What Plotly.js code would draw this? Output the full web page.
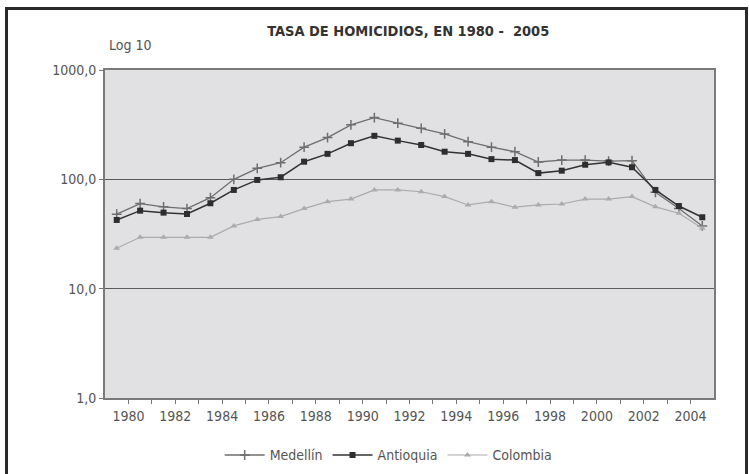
<!DOCTYPE html>
<html>
<head>
<meta charset="utf-8">
<script src="https://cdn.plot.ly/plotly-3.0.1.min.js"></script>
<style>
  html, body { margin: 0; padding: 0; background: #ffffff; }
  #wrap { position: relative; width: 749px; height: 474px; overflow: hidden; }
  #chart { width: 749px; height: 474px; }
  #frame { position: absolute; left: 5px; top: 7px; width: 737px; height: 480px;
           border: 3px solid #2a2a2a; pointer-events: none; }
</style>
</head>
<body>
<div id="wrap">
  <div id="chart"></div>
  <div id="frame"></div>
</div>
<script>
const years = [1980,1981,1982,1983,1984,1985,1986,1987,1988,1989,1990,1991,1992,
               1993,1994,1995,1996,1997,1998,1999,2000,2001,2002,2003,2004,2005];
const medellin  = [48,60,56,54,68,100,126,142,197,241,315,367,326,
                   293,260,221,197,179,144,150,150,147,148,76,54,37.5];
const antioquia = [42.5,51.7,49.6,48.2,60.4,80,98.7,104.5,145,171,214,250,226,
                   206,179,171,153,150,114,120,136,143,129,80,57,45];
const colombia  = [23.4,29.5,29.5,29.5,29.5,37.5,43,45.6,54,62.5,66,80,80,
                   77,69.5,58.3,62.5,55.6,58.3,59.5,66,66,69.5,56,49,35.7];
const xTickLabels = ['1980','1982','1984','1986','1988','1990','1992','1994','1996','1998','2000','2002','2004'];
const yTickVals = [1, 10, 100, 1000];
const yTickText = ['1,0', '10,0', '100,0', '1000,0'];

// x ticks sit between categories; every other tick carries a label
const xTickVals = [], xTickText = [];
for (let i = 0; i < years.length - 1; i++) {
  xTickVals.push(years[i] + 0.5);
  xTickText.push(i % 2 === 0 ? xTickLabels[i / 2] : '');
}

const FONT = '"DejaVu Sans Condensed", "Liberation Sans Narrow", "Liberation Sans", sans-serif';

const traces = [
  { x: years, y: medellin, name: 'Medellín', type: 'scatter', mode: 'lines+markers',
    line: { color: '#6e6e6e', width: 1.3 },
    marker: { symbol: 'cross-thin', size: 7, color: '#6e6e6e', line: { color: '#6e6e6e', width: 1.5 } } },
  { x: years, y: antioquia, name: 'Antioquia', type: 'scatter', mode: 'lines+markers',
    line: { color: '#333333', width: 1.5 },
    marker: { symbol: 'square', size: 6, color: '#2e2e2e' } },
  { x: years, y: colombia, name: 'Colombia', type: 'scatter', mode: 'lines+markers',
    line: { color: '#ababab', width: 1.2 },
    marker: { symbol: 'triangle-up', size: 6, color: '#ababab' } }
];

const layout = {
  width: 749, height: 474,
  margin: { l: 105, r: 35, t: 70, b: 76, autoexpand: false },
  paper_bgcolor: '#ffffff',
  plot_bgcolor: '#e1e1e3',
  font: { family: FONT, size: 14, color: '#555555' },
  title: { text: '<b>TASA DE HOMICIDIOS, EN 1980 -  2005</b>',
           font: { family: FONT, size: 14.5, color: '#333333' },
           x: 0.545, xanchor: 'center', y: 0.935, yanchor: 'middle' },
  showlegend: true,
  legend: { orientation: 'h', x: 0.465, xanchor: 'center', y: -0.175, yanchor: 'middle',
            font: { family: FONT, size: 14, color: '#555555' }, itemwidth: 40, tracegroupgap: 0 },
  xaxis: {
    type: 'linear', range: [1979.5, 2005.5],
    tickmode: 'array', tickvals: xTickVals, ticktext: xTickText,
    ticks: 'outside', ticklen: 4, tickcolor: '#777777', tickwidth: 1,
    showgrid: false, zeroline: false,
    showline: true, linecolor: '#7a7a7a', linewidth: 2, mirror: true,
    tickfont: { family: FONT, size: 14, color: '#555555' }
  },
  yaxis: {
    type: 'log', range: [0, 3],
    tickmode: 'array', tickvals: yTickVals, ticktext: yTickText,
    ticks: 'outside', ticklen: 4, tickcolor: '#777777', tickwidth: 1,
    showgrid: true, gridcolor: '#5a5a5a', gridwidth: 1.6,
    zeroline: false,
    showline: true, linecolor: '#7a7a7a', linewidth: 2, mirror: true,
    tickfont: { family: FONT, size: 14, color: '#555555' }
  },
  annotations: [
    { text: 'Log 10', xref: 'paper', yref: 'paper', x: 0.003, y: 1.077,
      xanchor: 'left', yanchor: 'middle', showarrow: false,
      font: { family: FONT, size: 14, color: '#555555' } }
  ]
};

Plotly.newPlot('chart', traces, layout, { displayModeBar: false, staticPlot: true });
</script>
</body>
</html>
